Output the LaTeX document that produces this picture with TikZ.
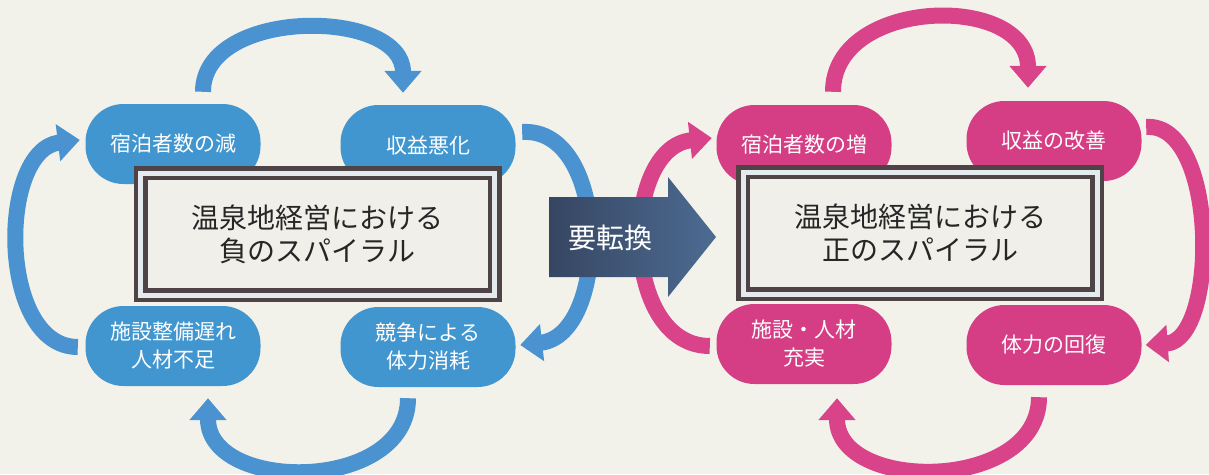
\documentclass[tikz,border=0pt]{standalone}
\usepackage{fontspec}
\setmainfont{Noto Sans CJK JP}
\usetikzlibrary{arrows.meta,calc}
\definecolor{bg}{HTML}{F3F2EA}
\definecolor{bluep}{HTML}{4196CF}
\definecolor{bluea}{HTML}{4A93D0}
\definecolor{pinkp}{HTML}{D53E84}
\definecolor{pinka}{HTML}{D8438A}
\definecolor{framec}{HTML}{4E4345}
\definecolor{boxfill}{HTML}{F0EFE9}
\definecolor{gapc}{HTML}{E4EAEE}
\definecolor{navyL}{HTML}{364662}
\definecolor{navyR}{HTML}{4D6B92}
\pgfdeclarelayer{back}
\pgfsetlayers{back,main}
\tikzset{
  pill/.style={rounded corners=38pt, minimum width=175pt, minimum height=80pt,
    text=white, font=\fontsize{21}{28}\selectfont, align=center, inner sep=0pt},
  bpill/.style={pill, fill=bluep},
  ppill/.style={pill, fill=pinkp},
  mainbox/.style={draw=framec, line width=4.5pt, double=gapc, double distance=5pt,
    fill=boxfill, minimum width=354pt, minimum height=122pt, text=black!85,
    font=\fontsize{28}{33}\selectfont, align=center},
  loopb/.style={bluea, line width=16pt, -{Triangle[width=36pt,length=22pt]}},
  loopp/.style={pinka, line width=16pt, -{Triangle[width=36pt,length=22pt]}},
  turnlabel/.style={text=white, font=\fontsize{28}{33}\selectfont, inner sep=0pt},
}
\begin{document}
\begin{tikzpicture}[x=1pt,y=-1pt]
\useasboundingbox (0,0) rectangle (1209,474);
% left pills
\node[bpill] (TL) at (173,144) {宿泊者数の減};
\node[bpill] (TR) at (428,145) {収益悪化};
\node[bpill] (BL) at (173,346) {施設整備遅れ\\人材不足};
\node[bpill] (BR) at (428,347) {競争による\\体力消耗};
% right pills
\node[ppill] (TL2) at (804,145) {宿泊者数の増};
\node[ppill] (TR2) at (1054,141) {収益の改善};
\node[ppill] (BL2) at (804,344) {施設・人材\\充実};
\node[ppill] (BR2) at (1054,345) {体力の回復};
% central boxes
\node[mainbox] (C1) at (317.5,234) {温泉地経営における\\負のスパイラル};
\node[mainbox] (C2) at (920,233) {温泉地経営における\\正のスパイラル};
% turn arrow
\shade[left color=navyL, right color=navyR]
  (549,197) -- (668,197) -- (668,177) -- (716,237) -- (668,297) -- (668,277) -- (549,277) -- cycle;
\node[turnlabel] (T) at (610,238) {要転換};
\begin{pgfonlayer}{back}
\fill[bg] (0,0) rectangle (1209,474);
% blue loop
\draw[loopb] ($(TL.north)+(30,-12)$) .. controls +(0,-85) and +(0,-85) .. ($(TR.north)+(-25,-12)$);
\draw[loopb] ($(TR.east)+(6.5,-13)$) .. controls +(88,-5) and +(90,-10) .. ($(BR.east)+(4.5,-2)$);
\draw[loopb] ($(BR.south)+(-20,11)$) .. controls +(0,95) and +(0,95) .. ($(BL.south)+(35,12)$);
\draw[loopb] ($(BL.west)+(-7.5,1)$) .. controls +(-80,0) and +(-82,10) .. ($(TL.west)+(-5.5,-4)$);
% pink loop
\draw[loopp] ($(TL2.north)+(29,-13)$) .. controls +(0,-95) and +(0,-95) .. ($(TR2.north)+(-26,-13)$);
\draw[loopp] ($(TR2.east)+(4.5,-14)$) .. controls +(72,-5) and +(73,-5) .. ($(BR2.east)+(4,0)$);
\draw[loopp] ($(BR2.south)+(-15,12)$) .. controls +(0,95) and +(0,95) .. ($(BL2.south)+(33,14)$);
\draw[loopp] ($(BL2.west)+(-6.5,2)$) .. controls +(-90,0) and +(-92,10) .. ($(TL2.west)+(-4.5,-7)$);
\end{pgfonlayer}
\end{tikzpicture}
\end{document}
